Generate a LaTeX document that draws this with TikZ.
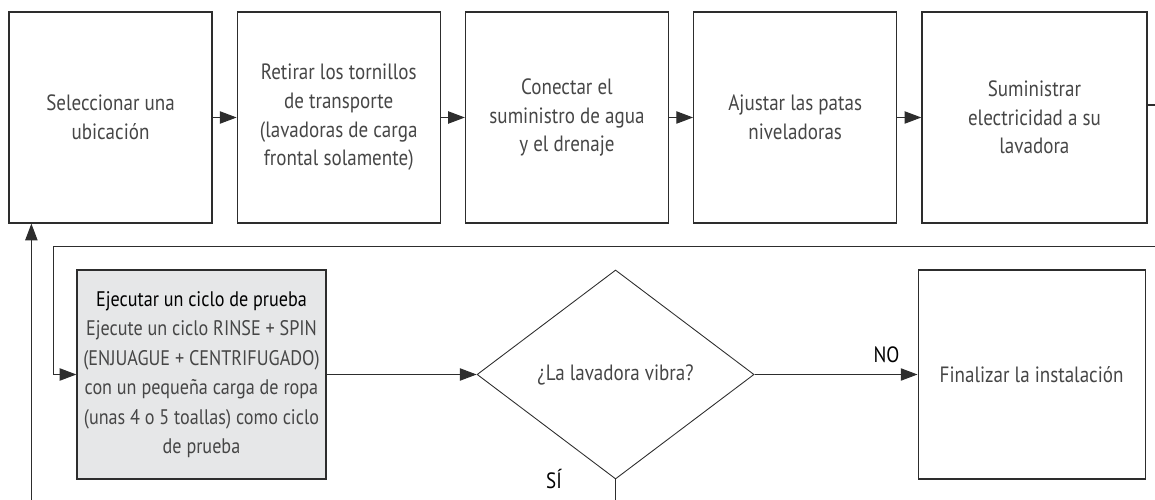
\documentclass[tikz,border=0pt]{standalone}
\usepackage{fontspec}
\setmainfont{PT Sans}[FakeStretch=0.86]
\usetikzlibrary{arrows.meta,positioning,shapes.geometric,calc}
\definecolor{linegray}{RGB}{45,45,45}
\definecolor{textgray}{RGB}{70,70,70}
\definecolor{testfill}{RGB}{230,231,232}

\begin{document}
\begin{tikzpicture}[
  node distance=0.48cm,
  stepbox/.style={draw=linegray,line width=0.7pt,minimum width=4.06cm,
                  minimum height=4.22cm,inner sep=2pt,align=center,text=textgray,
                  font=\fontsize{12.6}{16.3}\selectfont},
  testbox/.style={stepbox,fill=testfill,minimum width=4.98cm,minimum height=4.18cm,
                  inner sep=0pt,font=\fontsize{12}{16.8}\selectfont},
  decision/.style={diamond,draw=linegray,line width=0.5pt,aspect=1.33,inner sep=0pt,
                   minimum width=5.54cm,minimum height=4.18cm,text=textgray,
                   font=\fontsize{12.6}{16.3}\selectfont},
  flow/.style={-{Triangle[length=9.5pt,width=7pt]},draw=linegray,line width=0.6pt},
  lbl/.style={text=black,font=\fontsize{12.6}{16.3}\selectfont},
]
\useasboundingbox (0,0) rectangle (23.1,-10);

% top row
\node[stepbox] (sel) at (2.21,-2.35) {Seleccionar una\\ubicación};
\node[stepbox,right=of sel]  (tor)   {Retirar los tornillos\\de transporte\\(lavadoras de carga\\frontal solamente)};
\node[stepbox,right=of tor]  (agua)  {Conectar el\\suministro de agua\\y el drenaje};
\node[stepbox,right=of agua] (patas) {Ajustar las patas\\niveladoras};
\node[stepbox,right=of patas,minimum width=4.5cm] (elec) {Suministrar\\electricidad a su\\lavadora};

% bottom row
\node[testbox] (test) at (4.03,-7.49) {{\color{black}Ejecutar un ciclo de prueba}\\Ejecute un ciclo RINSE + SPIN\\(ENJUAGUE + CENTRIFUGADO)\\con un pequeña carga de ropa\\(unas 4 o 5 toallas) como ciclo\\de prueba};
\node[decision,right=3.0cm of test] (vib) {¿La lavadora vibra?};
\node[stepbox,right=3.26cm of vib,minimum width=4.54cm,minimum height=4.18cm] (fin) {Finalizar la instalación};

\foreach \a/\b in {sel/tor,tor/agua,agua/patas,patas/elec}
  \draw[flow] (\a) -- (\b);

\coordinate (back) at (23.4,-4.93);
\draw[flow] ($(elec.east)+(0,0.25)$) -| (back) -| ($(test.west)+(-0.46,0)$) -- (test.west);
\draw[flow] (test) -- (vib);
\draw[flow] (vib) -- (fin) node[lbl,pos=0.81,above=3pt] {NO};
\draw[flow] (vib.south) -- ++(0,-0.8) -| ($(sel.south west)+(0.46,0)$);
\node[lbl,left=0.95cm of vib.south] (si) {SÍ};
\end{tikzpicture}
\end{document}
